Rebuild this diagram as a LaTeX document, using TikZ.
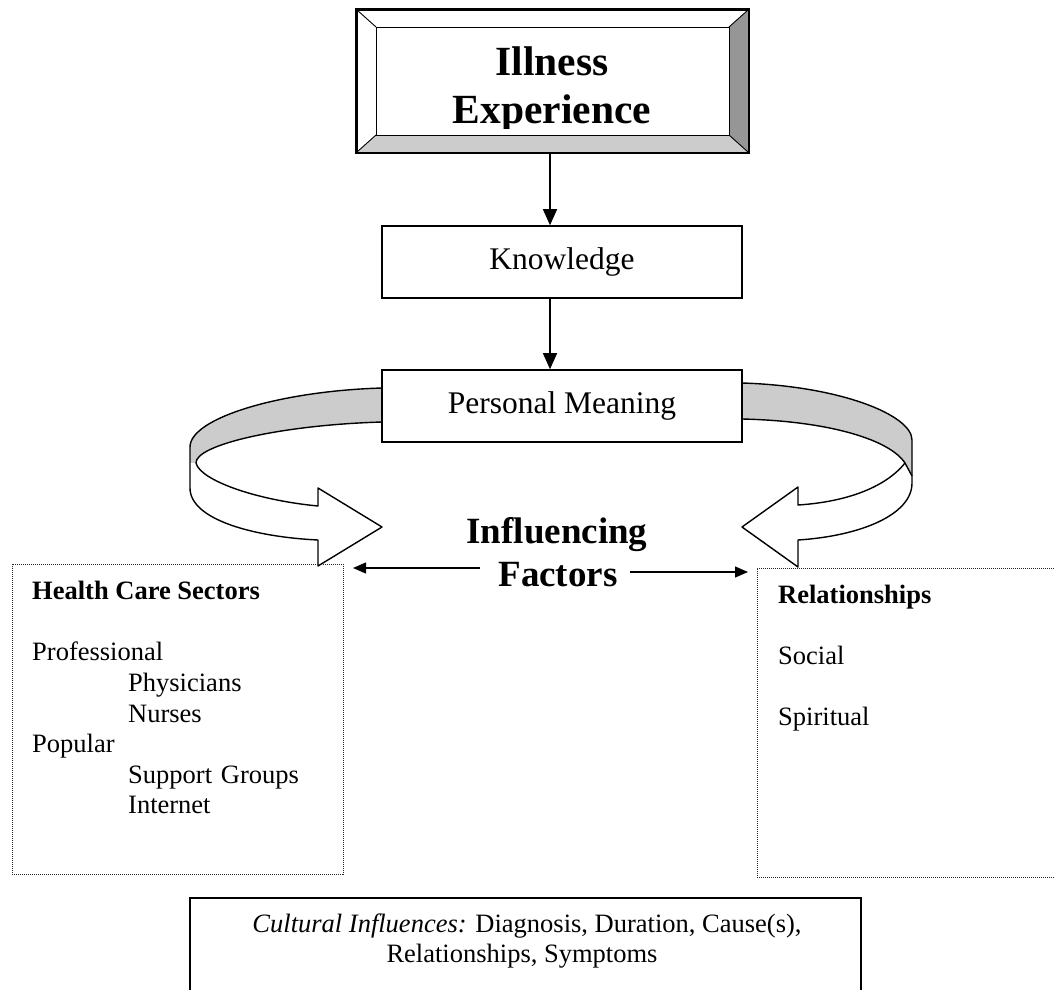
\documentclass[tikz,border=0pt]{standalone}
\usepackage{fontspec}
\setmainfont{Liberation Serif}
\usetikzlibrary{arrows.meta,calc}
\definecolor{bandgray}{RGB}{204,204,204}
\definecolor{bevdark}{RGB}{150,150,150}
\begin{document}
\begin{tikzpicture}[x=1pt,y=-1pt,
  box/.style={draw,line width=1.6pt,inner sep=0pt,fill=white},
  dotbox/.style={draw=black!85,line width=1pt,dash pattern=on 1pt off 1pt,inner sep=0pt},
  conn/.style={line width=1.5pt,-{Triangle[length=16pt,width=14pt]}},
  hconn/.style={line width=1.3pt,-{Triangle[length=13pt,width=11pt]}},
  body/.style={inner sep=0pt,anchor=base west,font=\fontsize{26.5pt}{30.5pt}\selectfont},
  cbody/.style={inner sep=0pt,anchor=base,font=\fontsize{26.5pt}{30.5pt}\selectfont},
  rib/.style={line width=1.4pt,line join=round},
  bev/.style={line width=0.9pt},
  title/.style={inner sep=0pt,anchor=base,font=\bfseries\fontsize{41.5pt}{48pt}\selectfont},
  infl/.style={inner sep=0pt,anchor=base,font=\bfseries\fontsize{37pt}{43pt}\selectfont},
  mid/.style={box,minimum width=360pt,minimum height=72pt,font=\fontsize{31.5pt}{36pt}\selectfont}
]
\useasboundingbox (0,0) rectangle (1055,990);

% ---- Illness Experience bevel box
\node[box,minimum width=391pt,minimum height=142pt] (ill) at (552.5,81) {};
\fill[bandgray] (357,152) -- (376,135) -- (729,135) -- (748,152) -- cycle;
\fill[bevdark] (748,10) -- (729,27) -- (729,135) -- (748,152) -- cycle;
\draw[bev] (376,27) rectangle (729,135);
\draw[bev] (357,10) -- (376,27) (748,10) -- (729,27) (748,152) -- (729,135) (357,152) -- (376,135);
\draw[line width=1.6pt] (ill.north west) rectangle (ill.south east);
\begin{scope}
\clip (376,27) rectangle (729,128);
\node[title] (ill1) at (552,75) {Illness};
\node[title] (ill2) at (552,123) {Experience};
\end{scope}

% ---- Knowledge
\node[mid] (kn) at (562,262) {Knowledge};

% ---- ribbons (left)
\fill[bandgray] (382,388) .. controls (280,391) and (190,418) .. (190,447) -- (190,463) -- (196,463) .. controls (195,445) and (280,425) .. (382,422) -- cycle;
\fill[white] (190,463) -- (190,488) .. controls (190,520) and (255,537) .. (318,540) -- (318,566) -- (382,527) -- (318,488) -- (318,506) .. controls (255,500) and (200,480) .. (196,463) -- cycle;
\draw[rib] (382,388) .. controls (280,391) and (190,418) .. (190,447) -- (190,488) .. controls (190,520) and (255,537) .. (318,540) -- (318,566) -- (382,527) -- (318,488) -- (318,506) .. controls (255,500) and (200,480) .. (196,463) .. controls (195,445) and (280,425) .. (382,422);

% ---- ribbons (right)
\fill[bandgray] (742,383) .. controls (840,386) and (912,415) .. (912,440) -- (912,476) -- (905,463) .. controls (890,440) and (830,421) .. (742,419) -- cycle;
\fill[white] (905,463) -- (912,476) -- (912,483) .. controls (912,515) and (860,536) .. (798,540) -- (798,567) -- (742,527) -- (798,487) -- (798,505) .. controls (845,502) and (885,488) .. (905,463) -- cycle;
\draw[rib] (742,383) .. controls (840,386) and (912,415) .. (912,440) -- (912,483) .. controls (912,515) and (860,536) .. (798,540) -- (798,567) -- (742,527) -- (798,487) -- (798,505) .. controls (845,502) and (885,488) .. (905,463) .. controls (890,440) and (830,421) .. (742,419);
\draw[rib] (905,463) -- (912,476);

% ---- Personal Meaning
\node[mid] (pm) at (562,406) {Personal Meaning};

% ---- vertical connectors
\coordinate (ax) at (550,0);
\draw[conn] (ill.south -| ax) -- (kn.north -| ax);
\draw[conn] (kn.south -| ax) -- (pm.north -| ax);

% ---- Influencing Factors
\node[infl] (inf) at (557,543) {Influencing};
\node[infl] (fac) at (558,586) {Factors};
\coordinate (la) at (480,568);
\coordinate (lb) at (353,568);
\coordinate (ra) at (630,572);
\coordinate (rb) at (748,572);
\draw[hconn] (la) -- (lb);
\draw[hconn] (ra) -- (rb);

% ---- Health Care Sectors box
\node[dotbox,minimum width=331pt,minimum height=310pt] (hc) at (177.5,719) {};
\node[body,font=\bfseries\fontsize{26.5pt}{30.5pt}\selectfont] (hcs) at (32,599) {Health Care Sectors};
\node[body] (pro) at (32,660) {Professional};
\node[body] (phy) at (128,691) {Physicians};
\node[body] (nur) at (128,722) {Nurses};
\node[body] (pop) at (32,752) {Popular};
\node[body] (sup) at (128,783) {Support\hspace{0.33em}Groups};
\node[body] (int) at (128,813) {Internet};

% ---- Relationships box (right side runs off the page)
\node[dotbox,minimum width=306pt,minimum height=309pt] (rel) at (910,722.5) {};
\node[body,font=\bfseries\fontsize{26.5pt}{30.5pt}\selectfont] (rl) at (778,603) {Relationships};
\node[body] (soc) at (778,664) {Social};
\node[body] (spi) at (778,725) {Spiritual};

% ---- Cultural influences box
\node[box,minimum width=671pt,minimum height=110pt] (cul) at (525.5,953) {};
\node[cbody] (c1) at (527,932) {\textit{Cultural Influences:} Diagnosis, Duration, Cause(s),};
\node[cbody] (c2) at (522,962) {Relationships, Symptoms};
\end{tikzpicture}
\end{document}
